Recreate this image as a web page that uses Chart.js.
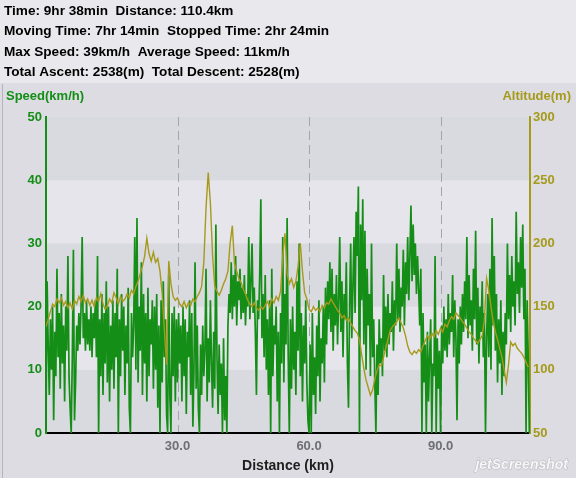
<!DOCTYPE html>
<html>
<head>
<meta charset="utf-8">
<script src="https://cdn.jsdelivr.net/npm/chart.js@4"></script>
<style>
  html, body { margin: 0; padding: 0; background: #dcdce2; }
  canvas { display: block; }
</style>
</head>
<body>
<canvas id="perfil" width="576" height="478"></canvas>
<script>
// resumen del recorrido (cabecera)
const resumen = [
  'Time: 9hr 38min  Distance: 110.4km',
  'Moving Time: 7hr 14min  Stopped Time: 2hr 24min',
  'Max Speed: 39km/h  Average Speed: 11km/h',
  'Total Ascent: 2538(m)  Total Descent: 2528(m)'
];

const DISTANCIA_TOTAL = 110.4;
const marcasDistancia = [30, 60, 90];

// velocidad (km/h), una muestra cada 0.25 km
const PASO_VELOCIDAD = 0.25;
const velocidad = [
  1, 24, 14, 6, 18, 10, 20, 2, 16, 9, 26, 12, 19, 7, 22, 11, 17, 5, 20, 13,
  28, 9, 4, 0, 12, 29, 2, 8, 17, 13, 19, 14, 20, 31, 15, 19, 13, 21, 14, 18,
  13, 20, 12, 19, 15, 21, 12, 28, 0, 18, 9, 22, 6, 19, 11, 24, 8, 20, 5, 17,
  10, 21, 7, 19, 12, 26, 0, 18, 9, 22, 13, 20, 6, 17, 11, 23, 4, 0, 19, 12,
  17, 31, 10, 34, 8, 20, 13, 27, 6, 22, 11, 19, 5, 23, 9, 18, 14, 21, 7, 20,
  10, 22, 4, 17, 0, 21, 8, 24, 12, 18, 3, 0, 25, 6, 0, 19, 9, 20, 5, 18,
  8, 19, 11, 17, 5, 20, 9, 18, 3, 16, 12, 21, 6, 19, 1, 10, 27, 7, 17, 4,
  0, 14, 6, 17, 9, 13, 26, 5, 15, 8, 21, 11, 4, 16, 7, 33, 12, 3, 14, 6,
  11, 0, 15, 2, 9, 0, 17, 22, 19, 27, 18, 25, 20, 28, 17, 24, 21, 26, 18, 23,
  19, 25, 17, 22, 20, 31, 18, 24, 30, 19, 23, 16, 6, 21, 18, 25, 37, 15, 22, 12,
  25, 10, 18, 6, 21, 0, 26, 9, 17, 14, 20, 5, 16, 0, 19, 11, 31, 8, 22, 14,
  34, 12, 0, 18, 7, 20, 10, 16, 6, 24, 13, 30, 9, 19, 5, 17, 11, 21, 8, 2,
  0, 14, 0, 19, 6, 12, 3, 17, 9, 21, 5, 15, 11, 20, 8, 23, 14, 24, 18, 27,
  16, 26, 13, 22, 17, 25, 14, 21, 31, 16, 24, 12, 22, 18, 27, 11, 4, 20, 30, 15,
  23, 31, 19, 35, 28, 39, 0, 33, 21, 37, 14, 32, 10, 26, 17, 22, 9, 30, 12, 18,
  8, 0, 14, 6, 18, 11, 15, 9, 25, 13, 20, 12, 22, 14, 19, 16, 24, 13, 21, 17,
  30, 18, 26, 16, 23, 20, 29, 17, 27, 22, 31, 21, 28, 36, 24, 33, 25, 30, 22, 28,
  23, 17, 26, 0, 19, 8, 14, 0, 16, 5, 12, 18, 0, 11, 9, 28, 0, 15, 7, 13,
  0, 17, 11, 20, 13, 18, 12, 22, 14, 19, 16, 25, 12, 21, 15, 2, 18, 11, 20, 14,
  22, 16, 24, 18, 31, 15, 25, 17, 21, 13, 26, 18, 32, 14, 23, 11, 20, 16, 24, 12,
  19, 0, 15, 22, 12, 26, 10, 34, 17, 28, 13, 22, 8, 18, 11, 21, 6, 16, 9, 19,
  14, 30, 18, 25, 16, 28, 20, 24, 17, 35, 22, 27, 19, 31, 23, 33, 18, 26, 0, 21, 12, 0
];

// altitud (m), una muestra cada 0.5 km
const PASO_ALTITUD = 0.5;
const altitud = [
  134, 140, 146, 152, 150, 156, 153, 157, 151, 154,
  149, 153, 148, 155, 152, 158, 154, 159, 153, 156,
  151, 155, 150, 157, 154, 160, 152, 148, 151, 156,
  153, 161, 157, 152, 158, 154, 156, 160, 157, 163,
  160, 166, 170, 176, 182, 190, 204, 192, 186, 193,
  185, 188, 178, 160, 132, 104, 186, 168, 158, 155,
  157, 152, 150, 154, 149, 153, 151, 156, 154, 158,
  161, 166, 185, 228, 256, 232, 190, 166, 162, 159,
  163, 168, 172, 178, 200, 214, 184, 178, 172, 169,
  164, 160, 155, 152, 150, 153, 149, 147, 150, 148,
  151, 154, 150, 156, 153, 158, 155, 162, 190, 208,
  176, 168, 172, 165, 170, 182, 200, 178, 161, 156,
  148, 146, 150, 147, 149, 146, 151, 149, 153, 152,
  156, 153, 150, 147, 145, 141, 143, 139, 141, 137,
  134, 131, 129, 124, 112, 101, 92, 86, 80, 84,
  93, 99, 104, 103, 110, 117, 124, 131, 134, 136,
  138, 141, 137, 133, 127, 119, 114, 112, 115, 113,
  116, 114, 119, 123, 127, 124, 129, 126, 131, 128,
  133, 130, 136, 134, 139, 142, 140, 145, 143, 141,
  138, 136, 133, 130, 128, 125, 123, 121, 124, 127,
  140, 172, 163, 150, 138, 130, 124, 117, 110, 100,
  90, 104, 122, 119, 121, 117, 115, 113, 110, 106, 102
];

const VERDE = '#148e16';
const OLIVA = '#a69a1c';
const FUENTE = '"Liberation Sans", Arial, sans-serif';

const aPuntos = (serie, paso) => serie.map((v, i) => ({ x: i * paso, y: v }));

// fondo, cabecera, franjas y textos fijos
const fondoPerfil = {
  id: 'fondoPerfil',
  beforeDraw(chart) {
    const { ctx, chartArea: area, scales } = chart;
    ctx.save();
    ctx.fillStyle = '#dcdce2';
    ctx.fillRect(0, 0, chart.width, chart.height);
    ctx.fillStyle = '#e9e9ed';
    ctx.fillRect(0, 0, chart.width, 83);

    // borde izquierdo del panel
    ctx.fillStyle = '#b4b4bc';
    ctx.fillRect(2, 84, 1, chart.height - 84);

    // cabecera
    ctx.fillStyle = '#000';
    ctx.font = 'bold 13.6px ' + FUENTE;
    ctx.textBaseline = 'middle';
    const filas = [11, 31.5, 52, 72];
    resumen.forEach((t, i) => ctx.fillText(t, 4, filas[i]));

    // franjas alternas cada 10 km/h
    const y = scales.y;
    for (let v = 0; v < 50; v += 10) {
      ctx.fillStyle = (v / 10) % 2 === 0 ? '#d9d9e0' : '#e5e5eb';
      const top = y.getPixelForValue(v + 10);
      const bot = y.getPixelForValue(v);
      ctx.fillRect(area.left, top, area.right - area.left, bot - top);
    }

    // guias verticales discontinuas
    ctx.strokeStyle = '#a4a4ac';
    ctx.lineWidth = 1;
    ctx.setLineDash([9, 5]);
    marcasDistancia.forEach(d => {
      const px = Math.round(scales.x.getPixelForValue(d)) + 0.5;
      ctx.beginPath();
      ctx.moveTo(px, area.top);
      ctx.lineTo(px, area.bottom);
      ctx.stroke();
    });
    ctx.setLineDash([]);

    // titulos de ejes
    ctx.font = 'bold 13px ' + FUENTE;
    ctx.fillStyle = VERDE;
    ctx.textAlign = 'left';
    ctx.fillText('Speed(km/h)', 6, 96);
    ctx.fillStyle = OLIVA;
    ctx.textAlign = 'right';
    ctx.fillText('Altitude(m)', 571, 96);
    ctx.fillStyle = '#1e1e1e';
    ctx.textAlign = 'center';
    ctx.font = 'bold 14px ' + FUENTE;
    ctx.fillText('Distance (km)', 288, 466);

    // marca de agua
    ctx.font = 'italic bold 14px ' + FUENTE;
    ctx.textAlign = 'right';
    ctx.lineWidth = 1;
    ctx.strokeStyle = '#b8b8c0';
    ctx.strokeText('jetScreenshot', 568, 465);
    ctx.fillStyle = '#f6f6f8';
    ctx.fillText('jetScreenshot', 568, 465);
    ctx.restore();
  }
};

new Chart(document.getElementById('perfil'), {
  type: 'line',
  data: {
    datasets: [
      {
        label: 'Speed',
        data: aPuntos(velocidad, PASO_VELOCIDAD),
        yAxisID: 'y',
        borderColor: VERDE,
        borderWidth: 1.7,
        pointRadius: 0,
        tension: 0,
        order: 1
      },
      {
        label: 'Altitude',
        data: aPuntos(altitud, PASO_ALTITUD),
        yAxisID: 'y1',
        borderColor: OLIVA,
        borderWidth: 1.4,
        pointRadius: 0,
        tension: 0,
        order: 0
      }
    ]
  },
  options: {
    responsive: false,
    animation: false,
    devicePixelRatio: 1,
    layout: { padding: { top: 117, left: 0, right: 0, bottom: 0 } },
    plugins: {
      legend: { display: false },
      tooltip: { enabled: false }
    },
    scales: {
      x: {
        type: 'linear',
        min: 0,
        max: DISTANCIA_TOTAL,
        afterBuildTicks: (s) => { s.ticks = marcasDistancia.map(v => ({ value: v })); },
        afterFit: (s) => { s.height = 45; },
        grid: { display: false, drawTicks: false },
        border: { display: true, color: '#000', width: 2 },
        ticks: {
          padding: 6,
          color: '#6e6e76',
          font: { family: FUENTE, size: 13, weight: 'bold' },
          maxRotation: 0,
          callback: (v) => v.toFixed(1)
        }
      },
      y: {
        position: 'left',
        min: 0,
        max: 50,
        afterFit: (s) => { s.width = 46; },
        grid: { display: false, drawTicks: false },
        border: { display: true, color: VERDE, width: 2 },
        ticks: {
          stepSize: 10,
          padding: 4,
          color: VERDE,
          font: { family: FUENTE, size: 13, weight: 'bold' }
        }
      },
      y1: {
        position: 'right',
        min: 50,
        max: 300,
        afterFit: (s) => { s.width = 46; },
        grid: { display: false, drawTicks: false },
        border: { display: true, color: OLIVA, width: 2 },
        ticks: {
          stepSize: 50,
          padding: 3,
          color: OLIVA,
          font: { family: FUENTE, size: 13, weight: 'bold' }
        }
      }
    }
  },
  plugins: [fondoPerfil]
});
</script>
</body>
</html>
